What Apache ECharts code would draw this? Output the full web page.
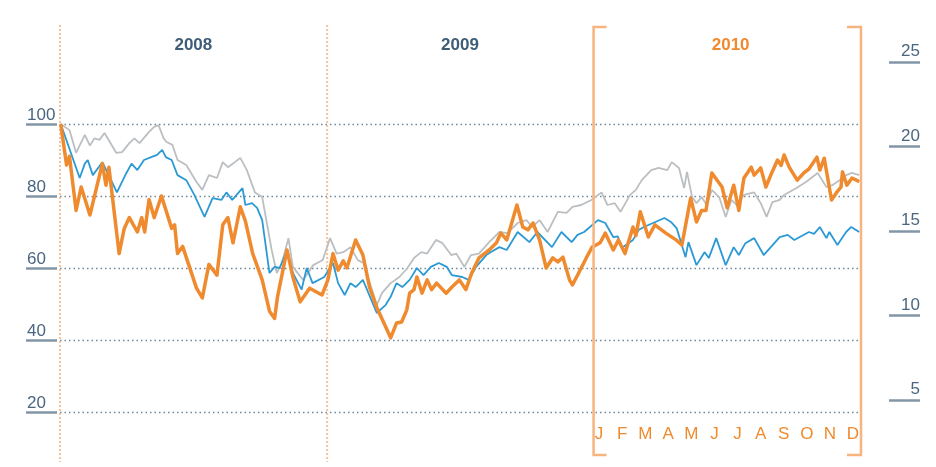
<!DOCTYPE html>
<html><head><meta charset="utf-8">
<script src="https://cdn.jsdelivr.net/npm/echarts@6/dist/echarts.min.js"></script>
<style>html,body{margin:0;padding:0;background:#fff}#c{width:936px;height:467px}</style>
</head><body><div id="c"></div>
<script>
const years = ['2008', '2009', '2010'];
const months = ['J','F','M','A','M','J','J','A','S','O','N','D'];
const leftRange = [20, 100];   // left scale, step 20
const rightRange = [5, 25];    // right scale, step 5

const orangeDates = ['2008-01-02','2008-01-10','2008-01-14','2008-01-23','2008-01-30','2008-02-11','2008-02-28','2008-03-04','2008-03-08','2008-03-22','2008-03-29','2008-04-05','2008-04-16','2008-04-22','2008-04-26','2008-05-02','2008-05-09','2008-05-19','2008-06-02','2008-06-06','2008-06-10','2008-06-17','2008-07-06','2008-07-14','2008-07-23','2008-08-03','2008-08-11','2008-08-18','2008-08-25','2008-09-04','2008-09-11','2008-09-21','2008-10-04','2008-10-14','2008-10-21','2008-10-25','2008-11-07','2008-11-15','2008-11-25','2008-12-08','2008-12-25',
'2009-01-02','2009-01-09','2009-01-16','2009-01-23','2009-01-28','2009-02-09','2009-02-19','2009-02-28','2009-03-10','2009-03-29','2009-04-06','2009-04-13','2009-04-20','2009-04-24','2009-04-30','2009-05-04','2009-05-11','2009-05-18','2009-05-24','2009-05-31','2009-06-13','2009-06-21','2009-07-01','2009-07-10','2009-07-18','2009-07-28','2009-08-11','2009-08-21','2009-08-27','2009-09-04','2009-09-18','2009-09-26','2009-10-03','2009-10-10','2009-10-19','2009-10-28','2009-11-06','2009-11-13','2009-11-20','2009-11-29','2009-12-03','2009-12-10','2009-12-22','2009-12-30',
'2010-01-10','2010-01-17','2010-01-28','2010-02-04','2010-02-13','2010-02-24','2010-02-28','2010-03-06','2010-03-17','2010-03-26','2010-04-10','2010-04-24','2010-05-02','2010-05-14','2010-05-22','2010-05-29','2010-06-04','2010-06-12','2010-06-26','2010-07-03','2010-07-12','2010-07-19','2010-07-26','2010-08-05','2010-08-09','2010-08-18','2010-08-25','2010-09-02','2010-09-10','2010-09-15','2010-09-19','2010-09-26','2010-10-07','2010-10-16','2010-10-23','2010-11-03','2010-11-07','2010-11-13','2010-11-23','2010-11-30','2010-12-06','2010-12-08','2010-12-14','2010-12-21','2010-12-31'];
const orangeValues = [100,88.6,91,76,82.5,74.7,89,83,88,64,71,74,70,74,70,79,74,80,71,72,64,66,54.4,51.7,61,58,72,74,67,77,73,64,56.7,48,46,52,65,57.5,50.6,54.4,52.5,
56.7,64,59.4,62,60,67.8,63.6,54.7,49,40.6,44.7,45,48.3,53,54,57.5,53,56.7,54,55.8,53,54.7,56.7,54,58.6,62.8,65,67,69.7,67.8,77.5,71.4,70.6,72.5,67.8,60,62.8,61.7,63,56.7,55.3,58,62.8,65.8,
67,69.7,65,67.8,64,71.4,69,75.6,68.6,72,69.7,67.8,66.4,79.4,72.8,76,76,86.4,82.5,76.7,83,76,85,88,85.8,87.8,82.5,86.4,90,88.5,91.4,88,84.4,86.4,87.5,90.8,87.2,90.5,78.9,81,82.5,86.7,83,85,84];

const blueDates = ['2008-01-02','2008-01-28','2008-02-04','2008-02-08','2008-02-15','2008-02-28','2008-03-11','2008-03-19','2008-04-01','2008-04-08','2008-04-16','2008-04-25','2008-05-05','2008-05-13','2008-05-20','2008-05-25','2008-06-02','2008-06-10','2008-06-22','2008-07-03','2008-07-17','2008-07-28','2008-08-09','2008-08-16','2008-08-24','2008-09-07','2008-09-11','2008-09-20','2008-09-27','2008-10-04','2008-10-14','2008-10-21','2008-10-28','2008-11-07','2008-11-15','2008-11-27','2008-12-04','2008-12-12','2008-12-28',
'2009-01-09','2009-01-16','2009-01-25','2009-02-02','2009-02-09','2009-02-19','2009-03-10','2009-03-22','2009-03-29','2009-04-06','2009-04-14','2009-04-24','2009-05-04','2009-05-13','2009-05-23','2009-06-03','2009-06-14','2009-06-21','2009-07-05','2009-07-14','2009-07-24','2009-08-07','2009-08-14','2009-08-25','2009-09-04','2009-09-19','2009-10-05','2009-10-16','2009-11-05','2009-11-18','2009-12-02','2009-12-10','2009-12-19',
'2010-01-07','2010-01-17','2010-01-28','2010-02-03','2010-02-09','2010-02-24','2010-03-04','2010-03-11','2010-04-08','2010-04-17','2010-04-25','2010-05-07','2010-05-11','2010-05-22','2010-06-02','2010-06-08','2010-06-18','2010-07-01','2010-07-12','2010-07-19','2010-07-28','2010-08-09','2010-08-22','2010-09-13','2010-09-24','2010-10-03','2010-10-23','2010-10-30','2010-11-07','2010-11-16','2010-11-20','2010-12-01','2010-12-13','2010-12-20','2010-12-31'];
const blueValues = [100,85,89,90,85.8,89.4,84.4,81,86.4,89,87.2,90,90.8,91.4,92.8,90.8,90,85.8,84.4,80.3,74.2,79.4,78.9,81,78.9,82.2,77.5,78,76.7,73.3,58.6,60.3,60,65,58.6,54,60,55.8,57.5,
61.4,55.8,52.5,55.8,54.7,56.7,47.5,49.7,52,55.8,54.7,56.7,60,58,60.3,61.4,60.3,58,57.5,56.7,60.3,63.6,64.5,65.8,65,70,67.2,70,65.8,70,67.2,69.2,70,
73.3,72.5,68.6,68.8,65.6,67.8,70.6,71.4,73.9,72.8,71,63,67.2,60.8,64.4,62.8,68.3,60.8,65.8,63.6,66.9,68.3,63.6,68.6,69.2,67.8,70,69.5,71.4,68.3,70,66.4,70,71.4,70];

const grayDates = ['2008-01-02','2008-01-14','2008-01-23','2008-02-04','2008-02-11','2008-02-17','2008-02-24','2008-03-02','2008-03-18','2008-03-26','2008-04-05','2008-04-12','2008-04-19','2008-05-02','2008-05-09','2008-05-15','2008-05-22','2008-05-26','2008-06-03','2008-06-10','2008-06-22','2008-07-06','2008-07-14','2008-07-23','2008-08-03','2008-08-11','2008-08-18','2008-08-25','2008-09-04','2008-09-13','2008-09-24','2008-10-04','2008-10-17','2008-10-24','2008-10-31','2008-11-09','2008-11-15','2008-11-29','2008-12-13','2008-12-26',
'2009-01-05','2009-01-14','2009-01-23','2009-02-02','2009-02-12','2009-02-20','2009-03-10','2009-03-17','2009-03-29','2009-04-10','2009-04-21','2009-04-30','2009-05-10','2009-05-18','2009-05-30','2009-06-08','2009-06-20','2009-06-27','2009-07-08','2009-07-17','2009-07-28','2009-08-11','2009-08-25','2009-09-05','2009-09-19','2009-10-01','2009-10-09','2009-10-19','2009-10-30','2009-11-13','2009-11-25','2009-12-03','2009-12-15','2009-12-29',
'2010-01-12','2010-01-20','2010-01-30','2010-02-07','2010-02-20','2010-02-28','2010-03-08','2010-03-21','2010-03-31','2010-04-12','2010-04-18','2010-04-28','2010-05-05','2010-05-09','2010-05-16','2010-05-22','2010-05-29','2010-06-05','2010-06-12','2010-06-22','2010-07-01','2010-07-09','2010-07-16','2010-07-26','2010-08-09','2010-08-18','2010-08-26','2010-09-03','2010-09-13','2010-09-19','2010-10-06','2010-10-19','2010-11-04','2010-11-16','2010-11-24','2010-12-04','2010-12-13','2010-12-21','2010-12-31'];
const grayValues = [100,98.3,92,97,94,96,95.6,97.5,92,92.2,94.7,96,94.7,97.8,99.2,99.7,96,95,94.2,90,88.6,83.9,81.7,85.8,85,89.4,88,89,90.6,87.2,81,79.7,65,58.6,61.4,68.3,60.3,56.7,60.8,62.2,
68.3,64,64.4,65.8,62.2,61.4,49.7,53,55.8,57.5,60,62.8,64.4,64,67.8,66.9,63.6,64,60.3,63.6,64,67.2,70,69.7,72.5,73.3,71.4,73.3,70,75.6,75.3,77,77.5,78.9,
81,77.5,78,75.6,80.3,81.7,84.4,87.2,87.8,87.2,89.4,87.8,82.2,86.7,79.7,78,79.7,77.5,81.7,79.7,74.2,78.9,77.5,80.3,81,78,74.2,78.3,78.9,80.3,82.2,83.9,86.4,82.5,83,84.4,85.8,86.4,85.8];

const FONT = '"Liberation Sans", Arial, sans-serif';
const AXIS_TEXT = '#4a6680';
const TICK_COLOR = '#8396a6';
const ORANGE = '#ef8a2e';
const BRACKET = '#f6b47f';

function pairs(d, v) { return d.map((x, i) => [x, v[i]]); }

const chart = echarts.init(document.getElementById('c'), null, {renderer: 'canvas'});
chart.setOption({
  animation: false,
  backgroundColor: '#fff',
  grid: [
    {left: 60, right: 76, top: 124, bottom: 55},
    {left: 889, right: 16, top: 62, bottom: 67},
    {left: 587.5, right: 71.5, top: 0, bottom: 41},
    {left: 60, right: 76, top: 45, bottom: 0}
  ],
  xAxis: [
    {type: 'time', gridIndex: 0, min: '2008-01-01', max: '2011-01-01', show: false},
    {type: 'value', gridIndex: 1, show: false},
    {type: 'category', gridIndex: 2, data: months, position: 'bottom',
     axisLine: {show: false}, axisTick: {show: false},
     axisLabel: {color: ORANGE, fontSize: 17, fontFamily: FONT, margin: 8, verticalAlign: 'middle', interval: 0}},
    {type: 'category', gridIndex: 3, position: 'top',
     data: years.map((y, i) => i === 2
       ? {value: y, textStyle: {color: ORANGE, fontSize: 17, fontWeight: 'bold', fontFamily: FONT, verticalAlign: 'middle', padding: [0, 0, 0, 8]}}
       : y),
     axisLine: {show: false}, axisTick: {show: false},
     axisLabel: {color: '#3f5d76', fontSize: 17, fontWeight: 'bold', fontFamily: FONT, margin: 0, verticalAlign: 'middle', interval: 0}}
  ],
  yAxis: [
    {type: 'value', gridIndex: 0, min: leftRange[0], max: leftRange[1], interval: 20, position: 'left', offset: 3,
     axisLine: {show: false},
     axisTick: {show: true, length: 31, lineStyle: {color: TICK_COLOR, width: 2.5}},
     axisLabel: {align: 'left', margin: 30, verticalAlign: 'bottom', padding: [0, 0, 0, 0],
                 color: AXIS_TEXT, fontSize: 17, fontFamily: FONT},
     splitLine: {show: true, lineStyle: {type: [1.5, 3], color: '#6f8699', width: 1.4}}},
    {type: 'value', gridIndex: 1, min: rightRange[0], max: rightRange[1], interval: 5, position: 'left',
     axisLine: {show: false},
     axisTick: {show: true, inside: true, length: 31, lineStyle: {color: TICK_COLOR, width: 2.5}},
     axisLabel: {inside: true, align: 'right', margin: 31, verticalAlign: 'bottom', padding: [0, 0, 2, 0],
                 color: AXIS_TEXT, fontSize: 17, fontFamily: FONT},
     splitLine: {show: false}},
    {type: 'value', gridIndex: 2, show: false},
    {type: 'value', gridIndex: 3, show: false}
  ],
  series: [
    {type: 'line', name: 'gray', xAxisIndex: 0, yAxisIndex: 0, data: pairs(grayDates, grayValues), clip: false,
     symbol: 'none', lineStyle: {color: '#bcbfc2', width: 1.8}, z: 2},
    {type: 'line', name: 'blue', xAxisIndex: 0, yAxisIndex: 0, data: pairs(blueDates, blueValues), clip: false,
     symbol: 'none', lineStyle: {color: '#2b9ad4', width: 1.8}, z: 3},
    {type: 'line', name: 'orange', xAxisIndex: 0, yAxisIndex: 0, data: pairs(orangeDates, orangeValues), clip: false,
     symbol: 'none', lineStyle: {color: ORANGE, width: 3.5, join: 'round'}, z: 4}
  ]
});

const xAt = d => chart.convertToPixel({xAxisIndex: 0}, d);
const x08 = xAt('2008-01-01'), x09 = xAt('2009-01-01'), x10 = xAt('2010-01-01'), x11 = xAt('2011-01-01');
const yTop = 25, yBot = 462, bTop = 27, bBot = 455, serif = 13;
chart.setOption({
  graphic: [
    {type: 'line', shape: {x1: x08, y1: yTop, x2: x08, y2: yBot}, style: {stroke: '#f7c29a', lineWidth: 2, lineDash: [2, 2]}, z: 1},
    {type: 'line', shape: {x1: x09, y1: yTop, x2: x09, y2: yBot}, style: {stroke: '#f7c29a', lineWidth: 2, lineDash: [2, 2]}, z: 1},
    {type: 'polyline', shape: {points: [[x10 + serif, bTop], [x10, bTop], [x10, bBot], [x10 + serif, bBot]]}, style: {stroke: BRACKET, lineWidth: 2.5, fill: null}, z: 5},
    {type: 'polyline', shape: {points: [[x11 - serif, bTop], [x11 + 1, bTop], [x11 + 1, bBot], [x11 - serif, bBot]]}, style: {stroke: BRACKET, lineWidth: 2.5, fill: null}, z: 5}
  ]
});
</script>
</body></html>
